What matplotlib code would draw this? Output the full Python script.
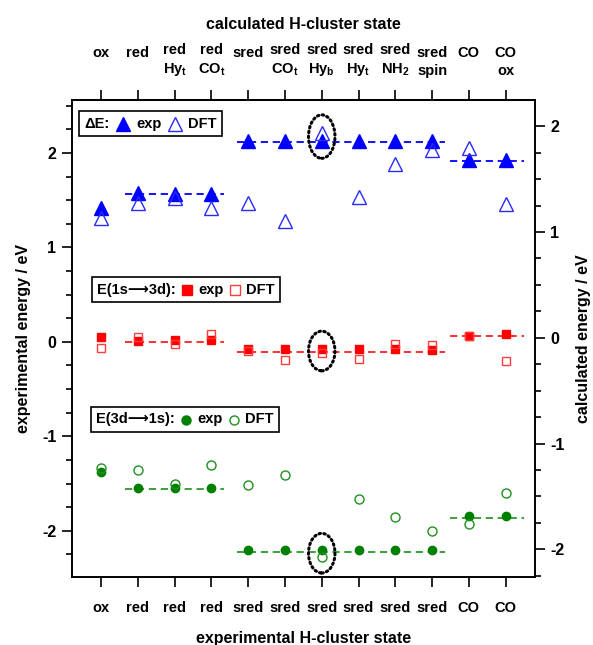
import matplotlib
matplotlib.use('Agg')
import matplotlib.pyplot as plt
from matplotlib.lines import Line2D
from matplotlib.patches import Ellipse
from matplotlib.ticker import MultipleLocator
from matplotlib.offsetbox import AnchoredOffsetbox, HPacker, TextArea, DrawingArea

plt.rcParams['font.family'] = ['Liberation Sans', 'DejaVu Sans']
plt.rcParams['font.weight'] = 'bold'
plt.rcParams['axes.labelweight'] = 'bold'
plt.rcParams['mathtext.fontset'] = 'custom'
plt.rcParams['mathtext.rm'] = 'Liberation Sans:bold'
plt.rcParams['mathtext.it'] = 'Liberation Sans:bold'
plt.rcParams['mathtext.bf'] = 'Liberation Sans:bold'

# H-cluster states
pos = list(range(1, 13))
exp_states = ['ox', 'red', 'red', 'red', 'sred', 'sred', 'sred', 'sred',
              'sred', 'sred', 'CO', 'CO']
calc_states = ['ox\n', 'red\n', 'red\nHy$_{t}$', 'red\nCO$_{t}$', 'sred\n',
               'sred\nCO$_{t}$', 'sred\nHy$_{b}$', 'sred\nHy$_{t}$',
               'sred\nNH$_{2}$', 'sred\nspin', 'CO\n', 'CO\nox']

# Delta E (eV)
dE_exp = [1.42, 1.58, 1.57, 1.57, 2.13, 2.13, 2.13, 2.13, 2.13, 2.13, 1.92, 1.92]
dE_dft = [1.13, 1.27, 1.32, 1.23, 1.27, 1.10, 1.94, 1.33, 1.64, 1.77, 1.79, 1.26]
# E(1s->3d) (eV, relative)
pre_exp = [0.05, 0.01, 0.02, 0.02, -0.08, -0.08, -0.08, -0.08, -0.08, -0.09, 0.065, 0.08]
pre_dft = [-0.10, 0.01, -0.06, 0.035, -0.13, -0.21, -0.14, -0.20, -0.06, -0.07, 0.02, -0.22]
# E(3d->1s) (eV, relative)
kb_exp = [-1.38, -1.55, -1.55, -1.55, -2.20, -2.20, -2.20, -2.20, -2.20, -2.20, -1.84, -1.84]
kb_dft = [-1.23, -1.25, -1.38, -1.20, -1.39, -1.30, -2.07, -1.52, -1.69, -1.83, -1.76, -1.47]

# group averages (red, sred, CO)
groups = [(1.65, 4.35), (4.7, 10.35), (10.5, 12.5)]
dE_mean = [1.57, 2.12, 1.91]
pre_mean = [0.0, -0.11, 0.06]
kb_mean = [-1.56, -2.22, -1.86]

blue = '#0000ff'
red = '#ff0000'
green = '#008000'

fig = plt.figure(figsize=(5.93, 6.45), dpi=100)
ax = fig.add_axes([0.1209, 0.1054, 0.7813, 0.7395])
ax2 = ax.twinx()

ax.set_xlim(0.2, 12.8)
ax.set_ylim(-2.49, 2.56)
ax2.set_ylim(-2.262, 2.247)

for means, col in [(dE_mean, blue), (pre_mean, '#ff2020'), (kb_mean, '#2a9a2a')]:
    for (x0, x1), m in zip(groups, means):
        ln, = ax.plot([x0, x1], [m, m], color=col, lw=1.3, zorder=1)
        ln.set_dashes([4, 2.6])

ax.plot(pos, dE_exp, ls='none', marker='^', ms=9.5, color=blue, zorder=3)
ax2.plot(pos, dE_dft, ls='none', marker='^', ms=9.5, mfc='none', mec='#2a2aff', mew=1.0)
ax.plot(pos, pre_exp, ls='none', marker='s', ms=5.5, color=red, zorder=3)
ax2.plot(pos, pre_dft, ls='none', marker='s', ms=5.5, mfc='none', mec='#ff3c3c', mew=1.0)
ax.plot(pos, kb_exp, ls='none', marker='o', ms=6, color=green, zorder=3)
ax2.plot(pos, kb_dft, ls='none', marker='o', ms=6.5, mfc='none', mec='#209020', mew=1.0)

# dotted rings around the sred Hy_b comparison
i = exp_states.index('sred') + 2
for ye, yd, h in [(dE_exp[i], dE_dft[i], 0.46), (pre_exp[i], pre_dft[i], 0.42),
                  (kb_exp[i], kb_dft[i], 0.42)]:
    pe = ax.transData.transform((pos[i], ye))
    pd = ax2.transData.transform((pos[i], yd))
    cx, cy = ax.transData.inverted().transform(((pe[0] + pd[0]) / 2, (pe[1] + pd[1]) / 2))
    ell = Ellipse((cx, cy), 0.72, h, fill=False, ec='black', lw=2.2,
                  ls=(0, (0.5, 1.1)), zorder=4)
    ell.set_capstyle('round')
    ax.add_patch(ell)

lw = 1.2
for a in (ax, ax2):
    for s in a.spines.values():
        s.set_linewidth(lw)
    a.yaxis.set_major_locator(MultipleLocator(1))
    a.yaxis.set_minor_locator(MultipleLocator(0.25))
    a.tick_params(axis='y', which='major', direction='out', length=7, width=lw,
                  labelsize=11.5, pad=4)
    a.tick_params(axis='y', which='minor', direction='out', length=4, width=lw)

ax.set_yticks([-2, -1, 0, 1, 2], labels=['-2', '-1', '0', '1', '2'])
ax2.set_yticks([-2, -1, 0, 1, 2], labels=['-2', '-1', '0', '1', '2'])

ax.set_xticks(pos, labels=exp_states)
ax.tick_params(axis='x', direction='out', length=7, width=lw, labelsize=10.5, pad=10)

top = ax.secondary_xaxis('top')
top.set_xticks(pos, labels=calc_states)
top.tick_params(axis='x', direction='out', length=7, width=lw, labelsize=10.5, pad=9)
top.spines['top'].set_linewidth(lw)
for t in top.get_xticklabels():
    t.set_linespacing(1.35)

ax.set_xlabel('experimental H-cluster state', fontsize=11.5, labelpad=12)
top.set_xlabel('calculated H-cluster state', fontsize=11.5, labelpad=10)
ax.set_ylabel('experimental energy / eV', fontsize=11.5, labelpad=8)
ax2.set_ylabel('calculated energy / eV', fontsize=11.5, labelpad=8)


def key_box(title, marker, color, dft_color, ms, anchor, sep=4):
    def sym(filled, c):
        da = DrawingArea(11, 9, 0, 0)
        da.add_artist(Line2D([5.5], [4.0], marker=marker, ms=ms, ls='none',
                             mfc=c if filled else 'none', mec=c, mew=1.0))
        return da
    tp = dict(fontsize=10.5, fontweight='bold')
    row = HPacker(children=[TextArea(title, textprops=tp), sym(True, color),
                            TextArea('exp', textprops=tp), sym(False, dft_color),
                            TextArea('DFT', textprops=tp)],
                  align='center', pad=0, sep=sep)
    box = AnchoredOffsetbox(loc='upper left', child=row, pad=0.4, borderpad=0,
                            frameon=True, bbox_to_anchor=anchor,
                            bbox_transform=ax.transAxes)
    box.patch.set_boxstyle('square', pad=0)
    box.patch.set_linewidth(lw)
    box.patch.set_edgecolor('black')
    ax.add_artist(box)


key_box('\u0394E:', '^', blue, '#2a2aff', 9.5, (0.0164, 0.977))
key_box('E(1s\u27f63d):', 's', red, '#ff3c3c', 6.5, (0.043, 0.629), sep=2.5)
key_box('E(3d\u27f61s):', 'o', green, '#209020', 6.5, (0.041, 0.357), sep=2.5)

fig.savefig('out.png', dpi=100)
